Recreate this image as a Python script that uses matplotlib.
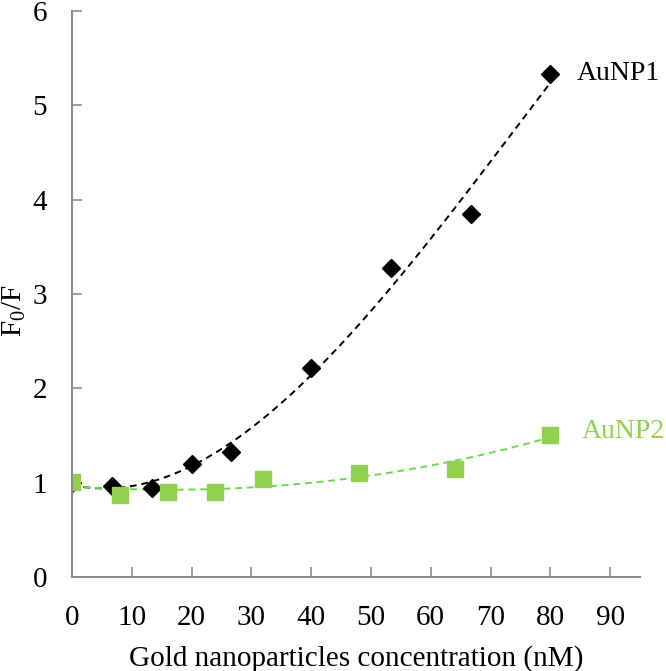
import matplotlib.pyplot as plt
import numpy as np

plt.rcParams['font.family'] = ['Liberation Serif', 'DejaVu Serif']
plt.rcParams['mathtext.default'] = 'regular'

# AuNP1 (diamonds)
x_np1 = [0, 6.67, 13.33, 20, 26.67, 40, 53.33, 66.67, 80]
y_np1 = [1.0, 0.97, 0.94, 1.20, 1.32, 2.22, 3.27, 3.85, 5.33]

# AuNP2 (squares)
x_np2 = [0, 8, 16, 24, 32, 48, 64, 80]
y_np2 = [1.01, 0.87, 0.90, 0.90, 1.04, 1.10, 1.15, 1.51]

x_ticks = [0, 10, 20, 30, 40, 50, 60, 70, 80, 90]
y_ticks = [0, 1, 2, 3, 4, 5, 6]

green = '#92D050'
axis_gray = '#8C8C8C'

fig = plt.figure(figsize=(6.66, 6.71), dpi=100)
ax = fig.add_axes([0.108, 0.140, 0.853, 0.844])

# polynomial trendlines (like Excel)
xs = np.linspace(0, 80, 200)
p1 = np.polyfit(x_np1, y_np1, 3)
p2 = np.polyfit(x_np2, y_np2, 3)
ax.plot(xs, np.polyval(p1, xs), color='black', linestyle=(0, (3.5, 2.5)), linewidth=1.4)
ax.plot(xs, np.polyval(p2, xs), color='#6BD94A', linestyle=(0, (3.5, 2.5)), linewidth=1.4)

ax.plot(x_np1, y_np1, linestyle='none', marker='D', markersize=9, color='black')
ax.plot(x_np2, y_np2, linestyle='none', marker='s', markersize=12, color=green)

ax.text(84.4, 5.33, 'AuNP1', fontsize=20, va='center', ha='left', color='black')
ax.text(85.3, 1.54, 'AuNP2', fontsize=20, va='center', ha='left', color=green)

ax.set_xlim(0, 95)
ax.set_ylim(0, 6)
ax.set_xticks(x_ticks)
ax.set_yticks(y_ticks)

for s in ['top', 'right']:
    ax.spines[s].set_visible(False)
for s in ['left', 'bottom']:
    ax.spines[s].set_color(axis_gray)
    ax.spines[s].set_linewidth(1.5)

ax.tick_params(direction='in', length=7, width=1.2, color=axis_gray,
               labelsize=21)
ax.tick_params(axis='x', pad=20)
ax.tick_params(axis='y', pad=18)

ax.set_xlabel('Gold nanoparticles concentration (nM)', fontsize=21, labelpad=10)
ax.set_ylabel('F$_0$/F', fontsize=21)
ax.yaxis.set_label_coords(-0.077, 0.47)

fig.savefig('out.png', dpi=100)
